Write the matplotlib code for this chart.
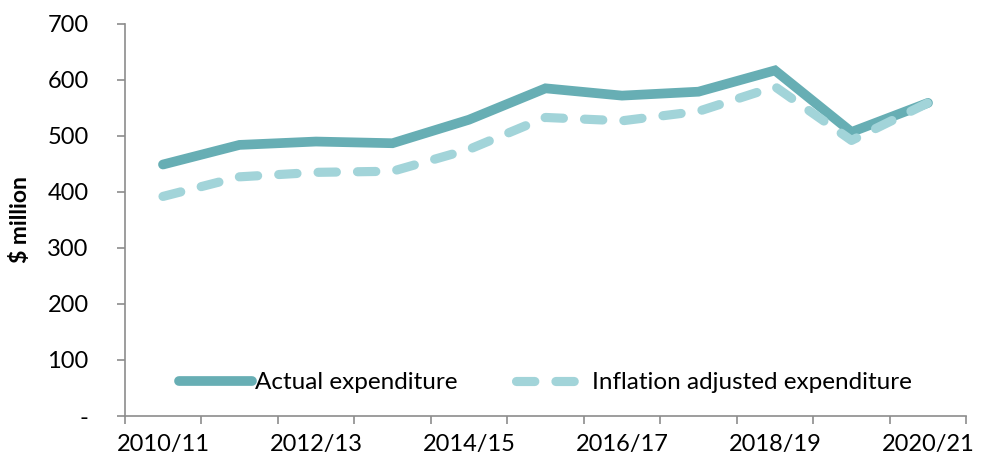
import numpy as np
import matplotlib.pyplot as plt

# Data
years = ['2010/11', '2011/12', '2012/13', '2013/14', '2014/15', '2015/16',
         '2016/17', '2017/18', '2018/19', '2019/20', '2020/21']
actual = [449, 484, 490, 487, 529, 585, 572, 579, 617, 507, 559]
adjusted = [392, 427, 435, 437, 476, 533, 527, 544, 588, 492, 559]
y_ticks = [0, 100, 200, 300, 400, 500, 600, 700]
y_labels = ['-', '100', '200', '300', '400', '500', '600', '700']

plt.rcParams['font.family'] = ['Lato', 'DejaVu Sans']

fig = plt.figure(figsize=(9.9, 4.69), dpi=100)
ax = fig.add_axes([0.126, 0.113, 0.85, 0.836])

x = np.arange(len(years))
ax.plot(x, actual, color='#67aeb4', lw=7.0, solid_capstyle='round',
        solid_joinstyle='miter', label='Actual expenditure')
ax.plot(x, adjusted, color='#a2d4d9', lw=6.6, dashes=(2.0, 2.3),
        dash_capstyle='round', label='Inflation adjusted expenditure')

ax.set_xlim(-0.5, len(years) - 0.5)
ax.set_ylim(0, 700)
ax.set_yticks(y_ticks)
ax.set_yticklabels(y_labels, fontsize=17)
ax.set_xticks(x[::2])
ax.set_xticklabels(years[::2], fontsize=17)
ax.set_xticks(np.arange(-0.5, len(years)), minor=True)
ax.tick_params(axis='x', which='major', length=0, pad=13)
ax.tick_params(axis='x', which='minor', length=6, color='#8c8c8c', width=1.2)
ax.tick_params(axis='y', length=6, color='#8c8c8c', width=1.2, pad=20)

for s in ['top', 'right']:
    ax.spines[s].set_visible(False)
for s in ['left', 'bottom']:
    ax.spines[s].set_color('#8c8c8c')
    ax.spines[s].set_linewidth(1.2)

ax.set_ylabel('$ million', fontsize=16.5, fontweight='bold', labelpad=12)

ax.legend(loc='center', bbox_to_anchor=(0.5, 0.085), ncol=2, frameon=False,
          fontsize=17.5, handlelength=3.0, handletextpad=0.12, columnspacing=2.4)

fig.savefig('out.png', dpi=100)
